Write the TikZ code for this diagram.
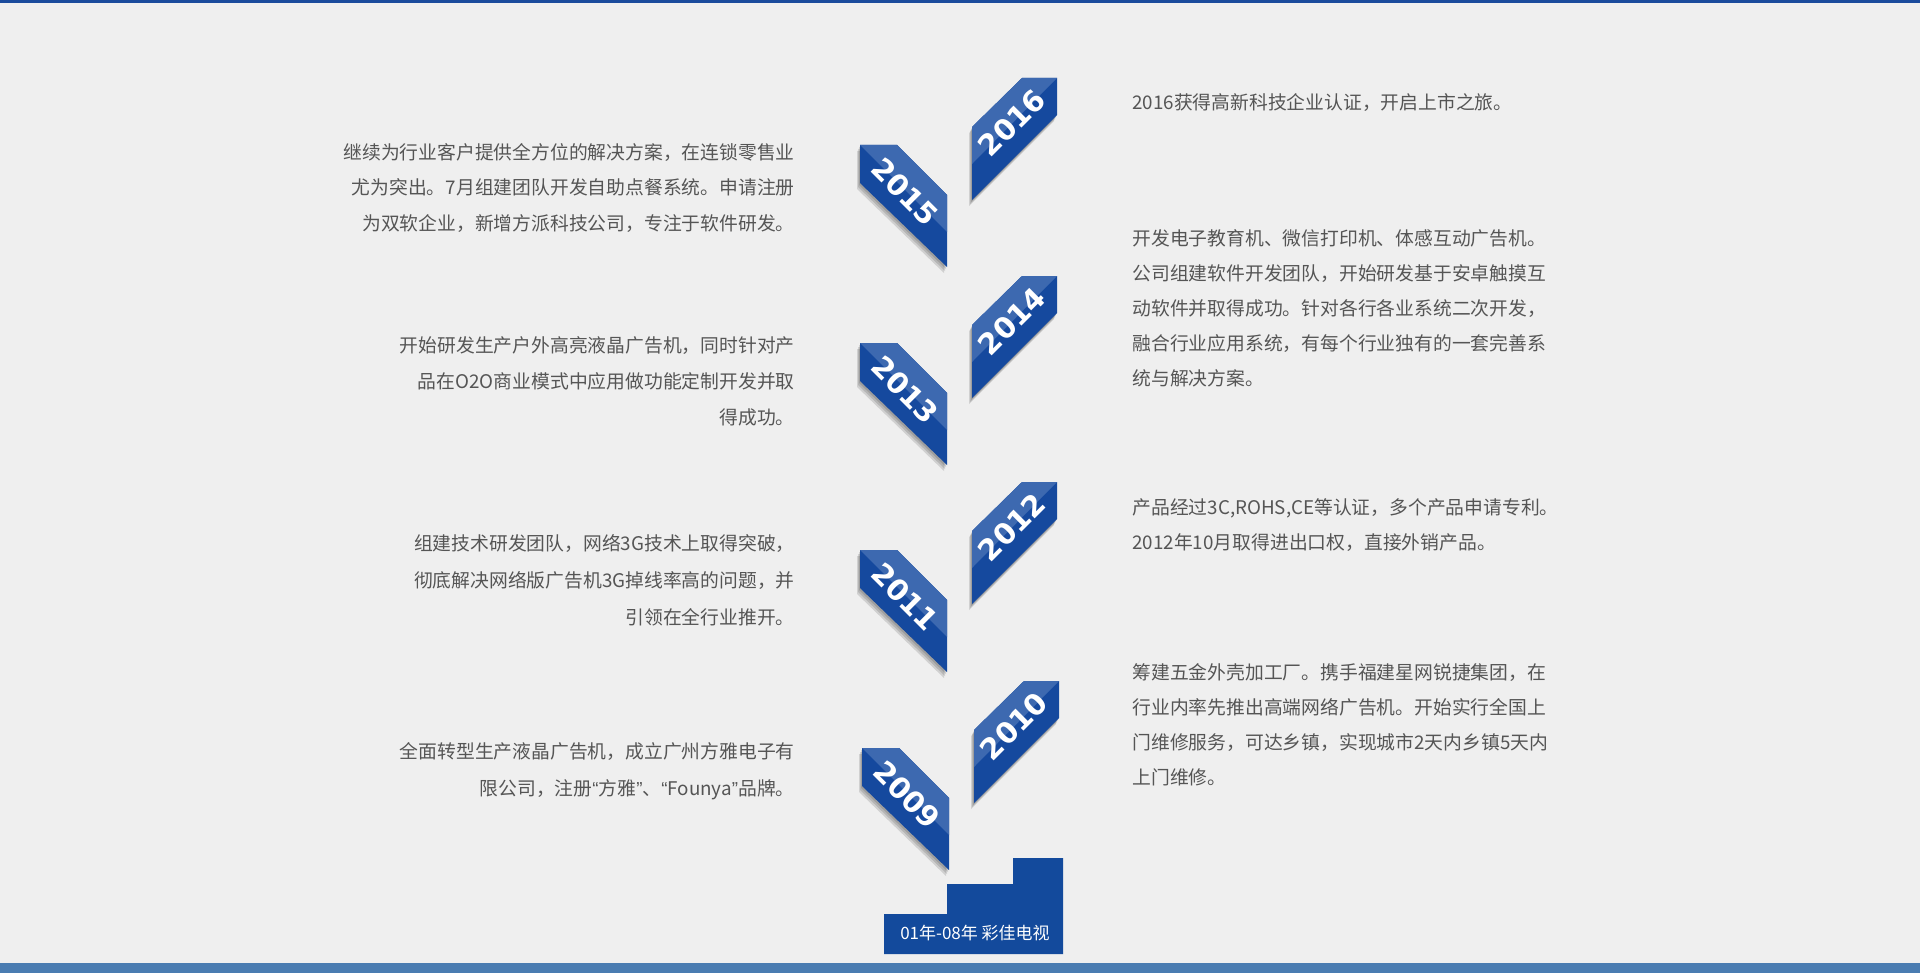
\documentclass[tikz,border=0pt]{standalone}
\usepackage{fontspec}
\setmainfont{Noto Sans CJK SC}
\newfontfamily\yearfont{DejaVu Sans}
\newfontfamily\quotefont{Liberation Sans}
\usetikzlibrary{positioning}

\definecolor{pagebg}{HTML}{EFEFEF}
\definecolor{topbar}{HTML}{1A4B9C}
\definecolor{footbar}{HTML}{4A7CB1}
\definecolor{ribbondark}{HTML}{15499E}
\definecolor{ribbonlight}{HTML}{3D69B0}
\definecolor{stepblue}{HTML}{134A9C}
\definecolor{bodytext}{HTML}{555555}

\newcommand{\openq}{{\quotefont “}}
\newcommand{\closeq}{{\quotefont ”}}

\begin{document}
\begin{tikzpicture}[x=0.5pt, y=-0.5pt,
    lefttext/.style={anchor=base east, inner sep=0pt, text=bodytext, font=\fontsize{9.4}{12}\selectfont},
    righttext/.style={anchor=base west, inner sep=0pt, text=bodytext, font=\fontsize{9.4}{12}\selectfont},
    yearlabel/.style={inner sep=0pt, text=white, font=\yearfont\bfseries\fontsize{14.5}{16}\selectfont},
    ribbonshade/.style={fill=black, opacity=0.13}]
    \useasboundingbox (0,0) rectangle (1920,973);
    \fill[pagebg] (0,0) rectangle (1920,973);
    \fill[topbar] (0,0) rectangle (1920,3);
    \fill[footbar] (0,963) rectangle (1920,973);

    % ribbons on the left (odd years)
    \foreach \yr/\dx/\dy in {2015/0/0, 2013/0/198, 2011/0/405, 2009/2/603} {
        \begin{scope}[shift={(\dx,\dy)}]
            \foreach \s in {2,4,6}
                \fill[ribbonshade, shift={(-\s/2,\s)}] (860,145) -- (897,145) -- (947,195) -- (947,267) -- (860,183) -- cycle;
            \fill[ribbondark] (860,145) -- (897,145) -- (947,195) -- (947,267) -- (860,183) -- cycle;
            \fill[ribbonlight] (860,145) -- (897,145) -- (947,195) -- (947,232) -- cycle;
            \node[yearlabel, rotate=-45] (y\yr) at (905,192) {\yr};
        \end{scope}
    }

    % ribbons on the right (even years)
    \foreach \yr/\dx/\dy in {2016/0/0, 2014/0/198, 2012/0/404, 2010/2/603} {
        \begin{scope}[shift={(\dx,\dy)}]
            \foreach \s in {2,4,6}
                \fill[ribbonshade, shift={(-\s/2,\s)}] (1022,78) -- (1057,78) -- (1057,115) -- (972,200) -- (972,127) -- cycle;
            \fill[ribbondark] (1022,78) -- (1057,78) -- (1057,115) -- (972,200) -- (972,127) -- cycle;
            \fill[ribbonlight] (1022,78) -- (1057,78) -- (972,164) -- (972,127) -- cycle;
            \node[yearlabel, rotate=45] (y\yr) at (1012,123) {\yr};
        \end{scope}
    }

    % steps at the foot
    \fill[stepblue] (884,914) -- (884,954) -- (1063,954) -- (1063,858) -- (1013,858) -- (1013,884) -- (947,884) -- (947,914) -- cycle;
    \node[inner sep=0pt, text=white, font=\fontsize{8.5}{10}\selectfont] (start) at (975,933) {01年-08年 彩佳电视};

    % texts on the left
    \foreach \t [count=\i from 0] in {继续为行业客户提供全方位的解决方案，在连锁零售业, 尤为突出。7月组建团队开发自助点餐系统。申请注册, 为双软企业，新增方派科技公司，专注于软件研发。}
        \node[lefttext] (t2015-\i) at (795,160+35*\i) {\t};
    \foreach \t [count=\i from 0] in {开始研发生产户外高亮液晶广告机，同时针对产, 品在O2O商业模式中应用做功能定制开发并取, 得成功。}
        \node[lefttext] (t2013-\i) at (795,352+36*\i) {\t};
    \foreach \t [count=\i from 0] in {组建技术研发团队，网络3G技术上取得突破，, 彻底解决网络版广告机3G掉线率高的问题，并, 引领在全行业推开。}
        \node[lefttext] (t2011-\i) at (795,550+37*\i) {\t};
    \foreach \t [count=\i from 0] in {全面转型生产液晶广告机，成立广州方雅电子有, 限公司，注册\openq 方雅\closeq 、\openq Founya\closeq 品牌。}
        \node[lefttext] (t2009-\i) at (795,758+37*\i) {\t};

    % texts on the right
    \node[righttext] (t2016-0) at (1132,110) {2016获得高新科技企业认证，开启上市之旅。};
    \foreach \t [count=\i from 0] in {开发电子教育机、微信打印机、体感互动广告机。, 公司组建软件开发团队，开始研发基于安卓触摸互, 动软件并取得成功。针对各行各业系统二次开发，, 融合行业应用系统，有每个行业独有的一套完善系, 统与解决方案。}
        \node[righttext] (t2014-\i) at (1132,245+35*\i) {\t};
    \foreach \t [count=\i from 0] in {{产品经过3C,ROHS,CE等认证，多个产品申请专利。}, 2012年10月取得进出口权，直接外销产品。}
        \node[righttext] (t2012-\i) at (1132,514+35*\i) {\t};
    \foreach \t [count=\i from 0] in {筹建五金外壳加工厂。携手福建星网锐捷集团，在, 行业内率先推出高端网络广告机。开始实行全国上, 门维修服务，可达乡镇，实现城市2天内乡镇5天内, 上门维修。}
        \node[righttext] (t2010-\i) at (1132,679+35*\i) {\t};
\end{tikzpicture}
\end{document}
